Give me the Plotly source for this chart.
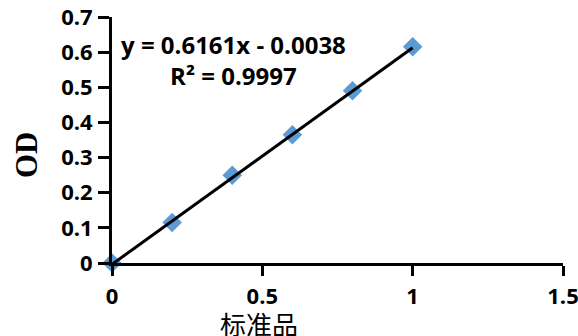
import plotly.graph_objects as go

# Data
conc = [0, 0.2, 0.4, 0.6, 0.8, 1.0]
od = [0.0, 0.115, 0.25, 0.365, 0.49, 0.615]
slope = 0.6161
intercept = -0.0038
fit_x = [0, 1.0]
fit_y = [slope * v + intercept for v in fit_x]
x_ticks = [0, 0.5, 1, 1.5]
y_ticks = [0, 0.1, 0.2, 0.3, 0.4, 0.5, 0.6, 0.7]

W, H = 578, 336
L, R, T, B = 112, 15, 17, 73
pw = W - L - R
ph = H - T - B


def px(xa):
    return (xa - L) / pw


def py(ya):
    return (H - B - ya) / ph


fig = go.Figure()
fig.add_trace(go.Scatter(x=conc, y=od, mode="markers",
                         marker=dict(symbol="diamond", size=15, color="#5B9BD5"),
                         cliponaxis=False, showlegend=False))
fig.add_trace(go.Scatter(x=fit_x, y=fit_y, mode="lines",
                         line=dict(color="black", width=3),
                         cliponaxis=False, showlegend=False))

tickfont = dict(family="Open Sans", size=22, color="black", weight="bold")
fig.update_xaxes(range=[0, 1.5], tickvals=x_ticks, ticktext=[f"{v:g}" for v in x_ticks],
                 showline=True, linecolor="black", linewidth=3, ticks="outside",
                 ticklen=10, tickwidth=3, tickcolor="black", showgrid=False,
                 zeroline=False, tickfont=tickfont, ticklabelstandoff=2,
                 automargin=False, ticklabeloverflow="allow")
fig.update_yaxes(range=[0, 0.7], tickvals=y_ticks, ticktext=[f"{v:g}" for v in y_ticks],
                 showline=True, linecolor="black", linewidth=3, ticks="outside",
                 ticklen=11, tickwidth=3, tickcolor="black", showgrid=False,
                 zeroline=False, tickfont=tickfont, ticklabelstandoff=1,
                 automargin=False, ticklabeloverflow="allow")

fig.add_annotation(x=px(233), y=py(60), xref="paper", yref="paper",
                   xanchor="center", yanchor="middle",
                   text="y = 0.6161x - 0.0038<br>R² = 0.9997", showarrow=False,
                   align="center", font=dict(family="Open Sans", size=24, color="black", weight="bold"))
fig.add_annotation(x=px(26), y=py(155), xref="paper", yref="paper",
                   xanchor="center", yanchor="middle",
                   text="OD", textangle=-90, showarrow=False,
                   font=dict(family="Liberation Serif", size=31, color="black", weight="bold"))
fig.add_annotation(x=px(259), y=py(323), xref="paper", yref="paper",
                   xanchor="center", yanchor="middle",
                   text="标准品", showarrow=False,
                   font=dict(family="Noto Sans CJK SC", size=26, color="black"))

fig.update_layout(width=W, height=H, margin=dict(l=L, r=R, t=T, b=B, autoexpand=False),
                  paper_bgcolor="white", plot_bgcolor="white")
fig.write_html("out.html", config={"displayModeBar": False},
               post_script="document.body.style.margin='0';")
